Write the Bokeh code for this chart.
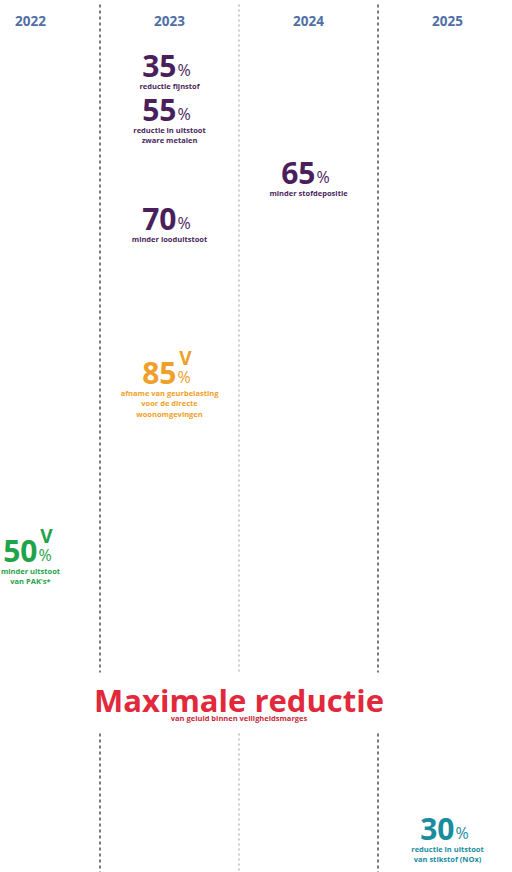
from bokeh.plotting import figure
from bokeh.models import Range1d, ColumnDataSource
from bokeh.core.properties import value
from bokeh.embed import file_html
from bokeh.resources import INLINE

# ---------------- data ----------------
years = ["2022", "2023", "2024", "2025"]
item_year = ["2023", "2023", "2024", "2023", "2023", "2022", "2025"]
item_pct = [35, 55, 65, 70, 85, 50, 30]
item_caption = [
    ["reductie fijnstof"],
    ["reductie in uitstoot", "zware metalen"],
    ["minder stofdepositie"],
    ["minder looduitstoot"],
    ["afname van geurbelasting", "voor de directe", "woonomgevingen"],
    ["minder uitstoot", "van PAK's*"],
    ["reductie in uitstoot", "van stikstof (NOx)"],
]
item_achieved = [False, False, False, False, True, True, False]
item_theme = ["air", "air", "air", "air", "odour", "pah", "nox"]
headline = "Maximale reductie"
headline_caption = "van geluid binnen veiligheidsmarges"

# ---------------- styles / layout ----------------
theme_color = {"air": "#4a1f5c", "odour": "#f0a028", "pah": "#1fa34b", "nox": "#1a8c9f"}
year_color = "#4f70a6"
head_color = "#e2283b"
FONT = value("Open Sans")
row_y = [65, 109, 172, 218, 372, 550, 828]   # layout rows (px from top)
head_y = 699
cap_gap = 20
line_gap = 10.5

W, H = 512, 872
px0, colw = 30.0, 139.0  # column-centre mapping in page px
xr = Range1d((0 - px0) / colw, (W - px0) / colw)
yr = Range1d(H, 0)

p = figure(width=W, height=H, x_range=xr, y_range=yr, output_backend="svg",
           toolbar_location=None, min_border=0)
p.axis.visible = False
p.grid.visible = False
p.outline_line_color = None
p.background_fill_color = "white"
p.border_fill_color = "white"

yi = {y: i for i, y in enumerate(years)}

# column dividers
for i in range(len(years) - 1):
    xb = i + 0.5
    if i == 1:
        col, dash, lw = "#b0b0b0", "2 3", 1.3
    else:
        col, dash, lw = "#333333", "3 3", 1.3
    p.segment(x0=[xb, xb], x1=[xb, xb], y0=[4, 733], y1=[672, 880],
              line_color=col, line_dash=dash, line_width=lw)

# year headers
p.text(x=list(range(len(years))), y=[20] * len(years), text=years,
       text_font=FONT, text_font_style="bold", text_font_size="13.5px",
       text_color=year_color, text_align="center", text_baseline="middle")

# items
nx, ny, nt, nc = [], [], [], []
cx, cy, ct, cc = [], [], [], []
kx, ky, kc = [], [], []
for j, yr_ in enumerate(item_year):
    x = yi[yr_]
    col = theme_color[item_theme[j]]
    nx.append(x); ny.append(row_y[j]); nt.append(str(item_pct[j])); nc.append(col)
    for k, line in enumerate(item_caption[j]):
        cx.append(x); cy.append(row_y[j] + cap_gap + k * line_gap); ct.append(line); cc.append(col)
    if item_achieved[j]:
        kx.append(x); ky.append(row_y[j] - 15); kc.append(col)

p.text(x="x", y="y", text="t", text_color="c",
       source=ColumnDataSource(dict(x=nx, y=ny, t=nt, c=nc)),
       text_font=FONT, text_font_style="bold", text_font_size="30px",
       text_align="right", text_baseline="middle", x_offset=7)
p.text(x="x", y="y", text="t", text_color="c",
       source=ColumnDataSource(dict(x=nx, y=ny, t=["%"] * len(nx), c=nc)),
       text_font=FONT, text_font_style="normal", text_font_size="16px",
       text_align="left", text_baseline="middle", x_offset=8, y_offset=4)
p.text(x="x", y="y", text="t", text_color="c",
       source=ColumnDataSource(dict(x=cx, y=cy, t=ct, c=cc)),
       text_font=FONT, text_font_style="bold", text_font_size="7.5px",
       text_align="center", text_baseline="middle")
p.text(x="x", y="y", text="t", text_color="c",
       source=ColumnDataSource(dict(x=kx, y=ky, t=["V"] * len(kx), c=kc)),
       text_font=FONT, text_font_style="bold", text_font_size="19px",
       text_align="center", text_baseline="middle", x_offset=16)

# headline
p.text(x=[1.5], y=[head_y], text=[headline], text_font=FONT, text_font_style="bold",
       text_font_size="31px", text_color=head_color, text_align="center",
       text_baseline="middle")
p.text(x=[1.5], y=[head_y + 18], text=[headline_caption], text_font=FONT,
       text_font_style="bold", text_font_size="7.5px", text_color="#c8283a",
       text_align="center", text_baseline="middle")

open("out.html", "w").write(file_html(p, INLINE))
